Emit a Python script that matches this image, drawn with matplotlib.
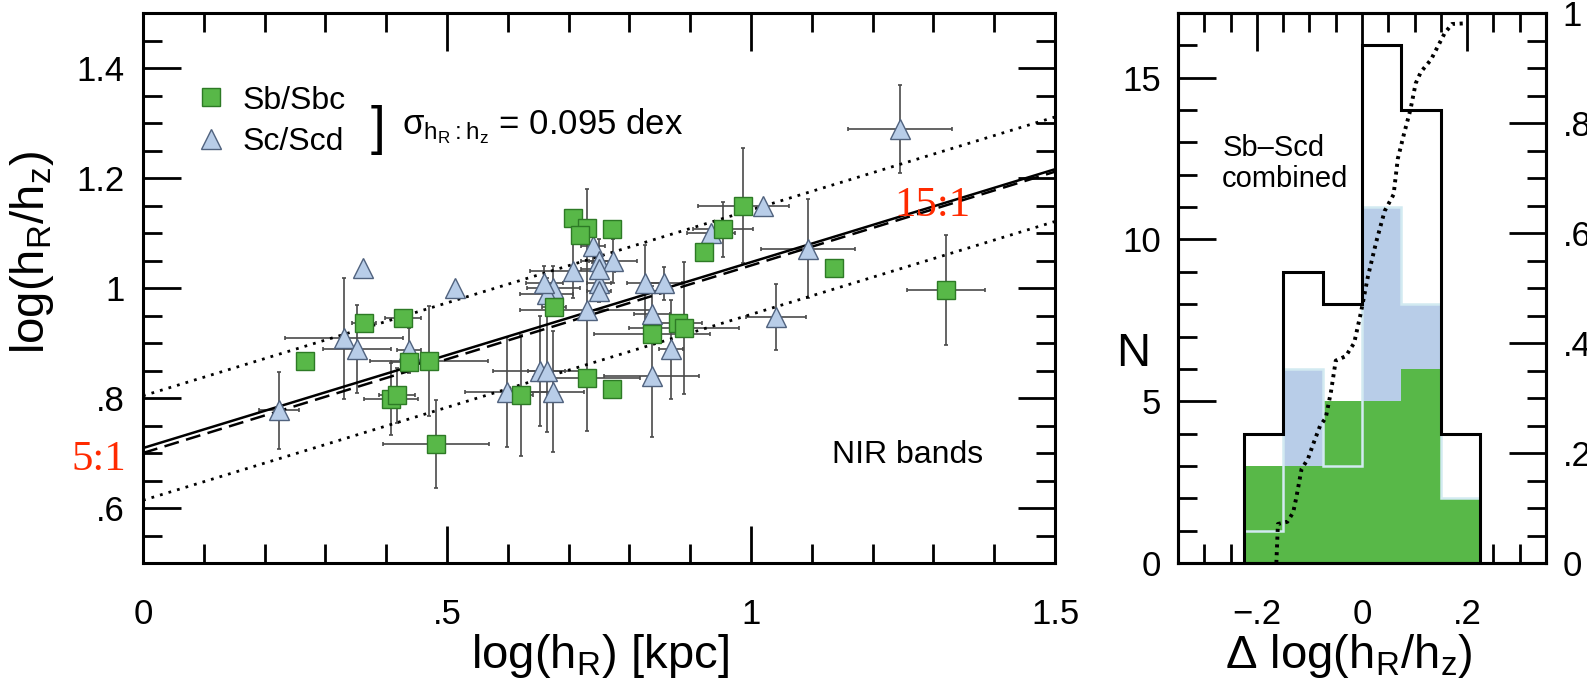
import numpy as np
import matplotlib.pyplot as plt
from matplotlib.ticker import MultipleLocator, FixedLocator, FixedFormatter
from matplotlib.lines import Line2D

plt.rcParams['font.family'] = ['Liberation Sans', 'DejaVu Sans']
plt.rcParams['mathtext.fontset'] = 'custom'
plt.rcParams['mathtext.rm'] = 'Liberation Sans'
plt.rcParams['mathtext.it'] = 'Liberation Sans:italic'

# --- Sb/Sbc galaxies: log(hR), log(hR/hz) and errors ---
sb_x = [0.266, 0.363, 0.428, 0.438, 0.470, 0.408, 0.418, 0.482, 0.707, 0.730, 0.719, 0.771,
        0.676, 0.837, 0.880, 0.890, 0.730, 0.771, 0.621, 0.923, 0.954, 0.987, 1.137, 1.320]
sb_y = [0.867, 0.936, 0.945, 0.865, 0.867, 0.798, 0.805, 0.716, 1.127, 1.109, 1.096, 1.107,
        0.966, 0.916, 0.936, 0.927, 0.836, 0.816, 0.805, 1.065, 1.107, 1.150, 1.036, 0.996]
sb_xerr = [0.0, 0.02, 0.03, 0.03, 0.097, 0.045, 0.03, 0.087, 0.0, 0.0, 0.0, 0.0,
           0.02, 0.096, 0.04, 0.09, 0.088, 0.0, 0.02, 0.0, 0.05, 0.075, 0.0, 0.064]
sb_yerr = [0.0, 0.0, 0.0, 0.02, 0.10, 0.065, 0.05, 0.08, 0.0, 0.0, 0.0, 0.0,
           0.0, 0.0, 0.0, 0.12, 0.0, 0.0, 0.11, 0.0, 0.05, 0.105, 0.0, 0.10]

# --- Sc/Scd galaxies ---
sc_x = [0.362, 0.513, 0.331, 0.352, 0.438, 0.224, 0.730, 0.740, 0.750, 0.773, 0.707, 0.675,
        0.664, 0.750, 0.750, 0.826, 0.857, 0.837, 0.868, 0.837, 0.653, 0.664, 0.675, 0.599,
        0.934, 1.020, 1.041, 1.245, 1.094, 0.750, 0.660]
sc_y = [1.036, 1.000, 0.909, 0.889, 0.887, 0.778, 0.960, 1.076, 1.049, 1.049, 1.031, 1.000,
        0.989, 1.009, 0.994, 1.009, 1.009, 0.953, 0.889, 0.840, 0.849, 0.849, 0.811, 0.811,
        1.100, 1.149, 0.947, 1.289, 1.071, 1.035, 1.010]
sc_xerr = [0.0, 0.0, 0.097, 0.056, 0.02, 0.033, 0.11, 0.02, 0.03, 0.04, 0.07, 0.044,
           0.044, 0.02, 0.02, 0.03, 0.03, 0.03, 0.02, 0.078, 0.077, 0.03, 0.05, 0.07,
           0.04, 0.0, 0.05, 0.086, 0.077, 0.03, 0.03]
sc_yerr = [0.0, 0.0, 0.11, 0.08, 0.04, 0.07, 0.22, 0.03, 0.04, 0.04, 0.05, 0.04,
           0.03, 0.03, 0.02, 0.07, 0.03, 0.05, 0.09, 0.11, 0.10, 0.11, 0.11, 0.10,
           0.0, 0.0, 0.06, 0.08, 0.09, 0.02, 0.03]

# --- fits: intercept, slope; dotted lines at +/- sigma ---
fit_solid = (0.709, 0.338)
fit_dashed = (0.700, 0.341)
sigma_dex = 0.095
fit_x = [0.0, 1.5]

# --- histogram of residuals ---
bin_edges = [-0.225, -0.15, -0.075, 0.0, 0.075, 0.15, 0.225]
n_all = [4, 9, 8, 16, 14, 4]
n_sb = [3, 3, 5, 5, 6, 2]
n_sc = [1, 6, 3, 11, 8, 2]

# cumulative fraction (dotted curve, right-hand scale)
cum_x = [-0.163, -0.160, -0.142, -0.131, -0.125, -0.115, -0.103, -0.093, -0.080, -0.069,
         -0.059, -0.050, -0.031, -0.015, -0.002, 0.011, 0.027, 0.043, 0.060, 0.068,
         0.080, 0.092, 0.102, 0.112, 0.131, 0.157, 0.171, 0.192]
cum_f = [0.0, 0.071, 0.075, 0.092, 0.119, 0.171, 0.189, 0.216, 0.249, 0.264,
         0.312, 0.368, 0.376, 0.400, 0.456, 0.520, 0.584, 0.640, 0.670, 0.735,
         0.781, 0.824, 0.872, 0.893, 0.915, 0.963, 0.980, 0.981]

# tick labels
sc_xticks = [0.0, 0.5, 1.0, 1.5]
sc_xticklabels = ['0', '.5', '1', '1.5']
sc_yticks = [0.6, 0.8, 1.0, 1.2, 1.4]
sc_yticklabels = ['.6', '.8', '1', '1.2', '1.4']
h_xticks = [-0.2, 0.0, 0.2]
h_xticklabels = ['\u2212.2', '0', '.2']
h_yticks = [0, 5, 10, 15]
h_yticklabels = ['0', '5', '10', '15']
f_yticks = [0.0, 0.2, 0.4, 0.6, 0.8, 1.0]
f_yticklabels = ['0', '.2', '.4', '.6', '.8', '1']

green = '#58b848'
green_edge = '#2d7a25'
blue = '#b8cde8'
blue_edge = '#50627e'
red = '#ff2a00'
TICK_FS = 25
LABEL_FS = 34


def style_ticks(ax):
    ax.tick_params(which='both', direction='in', width=2.0, top=True, right=True)
    ax.tick_params(which='major', length=27, pad=25, labelsize=TICK_FS)
    ax.tick_params(which='minor', length=14)
    for sp in ax.spines.values():
        sp.set_linewidth(2.2)


fig = plt.figure(figsize=(15.87, 6.85), dpi=100)
ax = fig.add_axes([0.0901, 0.1781, 0.5747, 0.8029])
axh = fig.add_axes([0.7423, 0.1781, 0.2319, 0.8029])

# ---------------- scatter panel ----------------
ebar_kw = dict(fmt='none', ecolor='#4a4a4a', elinewidth=1.2, capsize=1.5, capthick=1.2, zorder=2)
ax.errorbar(sb_x, sb_y, xerr=sb_xerr, yerr=sb_yerr, **ebar_kw)
ax.errorbar(sc_x, sc_y, xerr=sc_xerr, yerr=sc_yerr, **ebar_kw)

xx = np.array(fit_x)
solid = fit_solid[0] + fit_solid[1] * xx
ax.plot(xx, solid, color='black', lw=1.8, zorder=3)
ax.plot(xx, fit_dashed[0] + fit_dashed[1] * xx, color='black', lw=1.8, ls=(0, (6, 3)), zorder=3)
ax.plot(xx, solid + sigma_dex, color='black', lw=2.0, ls=(0, (1, 2.2)), zorder=3)
ax.plot(xx, solid - sigma_dex, color='black', lw=2.0, ls=(0, (1, 2.2)), zorder=3)

ax.plot(sc_x, sc_y, ls='none', marker='^', ms=14, mfc=blue, mec=blue_edge, mew=1.0, zorder=4)
ax.plot(sb_x, sb_y, ls='none', marker='s', ms=12.5, mfc=green, mec=green_edge, mew=1.0, zorder=5)

ax.set_xlim(0, 1.5)
ax.set_ylim(0.5, 1.5)
ax.xaxis.set_major_locator(FixedLocator(sc_xticks))
ax.xaxis.set_major_formatter(FixedFormatter(sc_xticklabels))
ax.xaxis.set_minor_locator(MultipleLocator(0.1))
ax.yaxis.set_major_locator(FixedLocator(sc_yticks))
ax.yaxis.set_major_formatter(FixedFormatter(sc_yticklabels))
ax.yaxis.set_minor_locator(MultipleLocator(0.05))
style_ticks(ax)
ax.tick_params(axis='y', which='major', pad=13)

ax.set_xlabel(r'log(h$_\mathregular{R}$) [kpc]', fontsize=LABEL_FS)
ax.xaxis.set_label_coords(0.501, -0.125)
ax.set_ylabel(r'log(h$_\mathregular{R}$/h$_\mathregular{z}$)', fontsize=LABEL_FS)
ax.yaxis.set_label_coords(-0.095, 0.564)

handles = [Line2D([], [], ls='none', marker='s', ms=12.5, mfc=green, mec=green_edge, mew=1.0),
           Line2D([], [], ls='none', marker='^', ms=14, mfc=blue, mec=blue_edge, mew=1.0)]
ax.legend(handles, ['Sb/Sbc', 'Sc/Scd'], loc='upper left', bbox_to_anchor=(0.057, 0.868),
          frameon=False, fontsize=23, handlelength=1.0, handletextpad=0.5,
          labelspacing=0.35, borderpad=0, borderaxespad=0)

ax.text(0.258, 0.787, ']', transform=ax.transAxes, fontsize=38, ha='center', va='center')
ax.text(0.284, 0.795, r'$\mathregular{\sigma_{h_R:h_z}}$ = 0.095 dex', transform=ax.transAxes,
        fontsize=25, ha='left', va='center')
ax.text(0.755, 0.196, 'NIR bands', transform=ax.transAxes, fontsize=23, ha='left', va='center')

ax.text(-0.027, 0.688, '5:1', fontsize=31, color=red, family='Liberation Serif',
        ha='right', va='center', clip_on=False)
ax.text(1.298, 1.149, '15:1', fontsize=31, color=red, family='Liberation Serif',
        ha='center', va='center', zorder=6)

# ---------------- histogram panel ----------------
axh.stairs(n_sc, bin_edges, fill=True, color=blue, zorder=1)
axh.stairs(n_sb, bin_edges, fill=True, color=green, zorder=2)
axh.stairs(n_sc, bin_edges, color='#d2eaf1', lw=1.8, zorder=3)
axh.stairs(n_all, bin_edges, color='black', lw=2.2, zorder=4)

axh.set_xlim(-0.35, 0.35)
axh.set_ylim(0, 17)
axh.xaxis.set_major_locator(FixedLocator(h_xticks))
axh.xaxis.set_major_formatter(FixedFormatter(h_xticklabels))
axh.xaxis.set_minor_locator(MultipleLocator(0.05))
axh.yaxis.set_major_locator(FixedLocator(h_yticks))
axh.yaxis.set_major_formatter(FixedFormatter(h_yticklabels))
axh.yaxis.set_minor_locator(MultipleLocator(1))
style_ticks(axh)
axh.tick_params(axis='y', which='both', right=False)
axh.tick_params(axis='y', which='major', pad=12)

axh.set_xlabel(r'$\Delta$ log(h$_\mathregular{R}$/h$_\mathregular{z}$)', fontsize=LABEL_FS)
axh.xaxis.set_label_coords(0.465, -0.125)
axh.set_ylabel('N', fontsize=LABEL_FS, rotation=0, va='center')
axh.yaxis.set_label_coords(-0.123, 0.38)

axh.text(0.12, 0.727, 'Sb\u2013Scd\ncombined', transform=axh.transAxes, fontsize=21,
         ha='left', va='center', linespacing=1.15)

axf = axh.twinx()
axf.plot(cum_x, cum_f, color='black', lw=2.8, ls=(0, (0.8, 1.2)))
axf.set_ylim(0, 1)
axf.yaxis.set_major_locator(FixedLocator(f_yticks))
axf.yaxis.set_major_formatter(FixedFormatter(f_yticklabels))
axf.yaxis.set_minor_locator(MultipleLocator(0.05))
axf.tick_params(which='both', direction='in', width=2.0, left=False, right=True)
axf.tick_params(which='major', length=27, pad=12, labelsize=TICK_FS)
axf.tick_params(which='minor', length=14)
for sp in axf.spines.values():
    sp.set_linewidth(2.2)

fig.savefig('out.png', dpi=100, facecolor='white')
